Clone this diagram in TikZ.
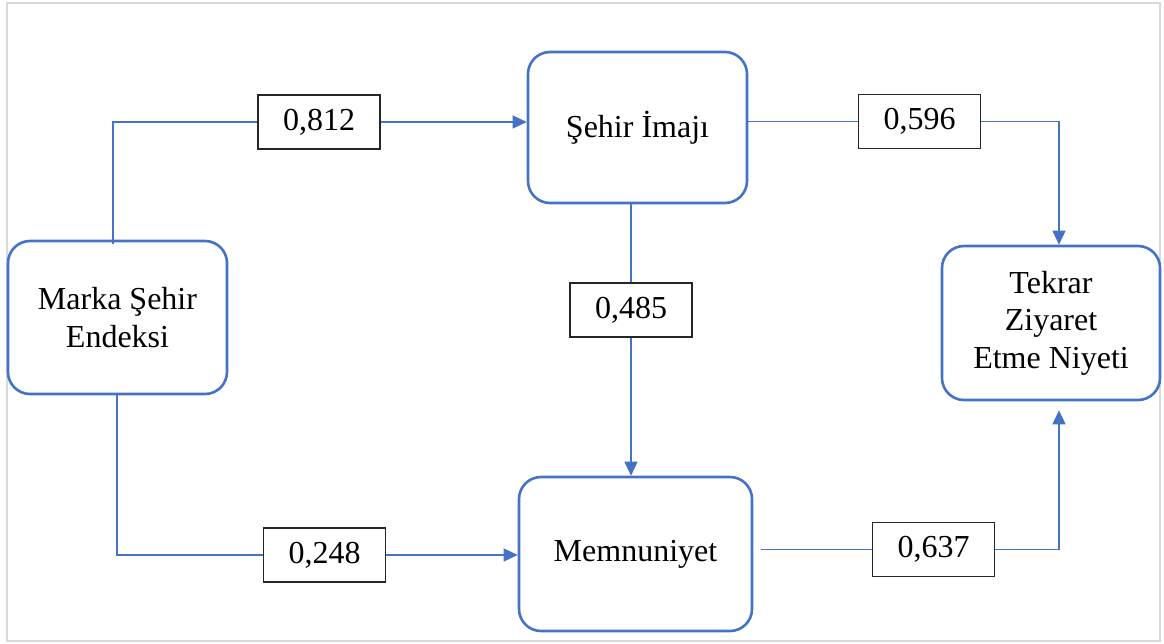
\documentclass[tikz,border=0pt]{standalone}
\usepackage{fontspec}
\setmainfont{Liberation Serif}
\usepackage{xcolor}
\usetikzlibrary{positioning,arrows.meta}
\definecolor{officeblue}{HTML}{4472C4}
\definecolor{framegray}{HTML}{D9D9D9}

\begin{document}
\begin{tikzpicture}[x=1pt,y=-1pt]
\tikzstyle{construct}=[draw=officeblue, line width=2.6pt, rounded corners=22pt, align=center, inner sep=0pt, font=\fontsize{32}{37.5}\selectfont]
\tikzstyle{coef}=[draw=black!85, line width=1.5pt, fill=white, minimum width=122pt, minimum height=54pt, inner sep=0pt, font=\fontsize{32}{37.5}\selectfont]
\tikzstyle{link}=[draw=officeblue, line width=1.3pt]
\tikzstyle{arr}=[-{Triangle[width=13pt,length=14pt]}]
\useasboundingbox (0,0) rectangle (1164,643);
\draw[framegray, line width=2pt] (7,3) rectangle (1160,641);
% constructs
\node[construct, minimum width=219pt, minimum height=153pt] (marka) at (117.5,317.5) {Marka Şehir\\Endeksi};
\node[construct, minimum width=219pt, minimum height=151pt] (imaj) at (637.5,127.5) {Şehir İmajı};
\node[construct, minimum width=233pt, minimum height=154pt] (memnun) at (635.5,554) {Memnuniyet};
\node[construct, minimum width=218pt, minimum height=154pt] (tekrar) at (1051,323) {Tekrar\\Ziyaret\\Etme Niyeti};
% path coefficients
\node[coef] (k812) at (319,122) {0,812};
\node[coef] (k596) at (919.5,121.5) {0,596};
\node[coef] (k485) at (631,310) {0,485};
\node[coef] (k248) at (324.5,555) {0,248};
\node[coef] (k637) at (933.5,549.5) {0,637};
% connectors
\draw[link] ([xshift=-4.5pt, yshift=-4pt]marka.north) |- (k812.west);
\draw[link, arr] (k812.east) -- (k812.east -| imaj.west);
\draw[link] (imaj.east |- k596) -- (k596.west);
\draw[link, arr] (k596.east) -| ([xshift=8pt]tekrar.north);
\draw[link] ([xshift=-6.5pt]imaj.south) -- (k485.north);
\draw[link, arr] (k485.south) -- (k485.south |- memnun.north);
\draw[link] ([xshift=-0.5pt]marka.south) |- (k248.west);
\draw[link, arr] (k248.east) -- (k248.east -| memnun.west);
\draw[link] ([xshift=8pt]memnun.east |- k637) -- (k637.west);
\draw[link, arr, shorten >=9pt] (k637.east) -| ([xshift=8pt]tekrar.south);
\end{tikzpicture}
\end{document}
